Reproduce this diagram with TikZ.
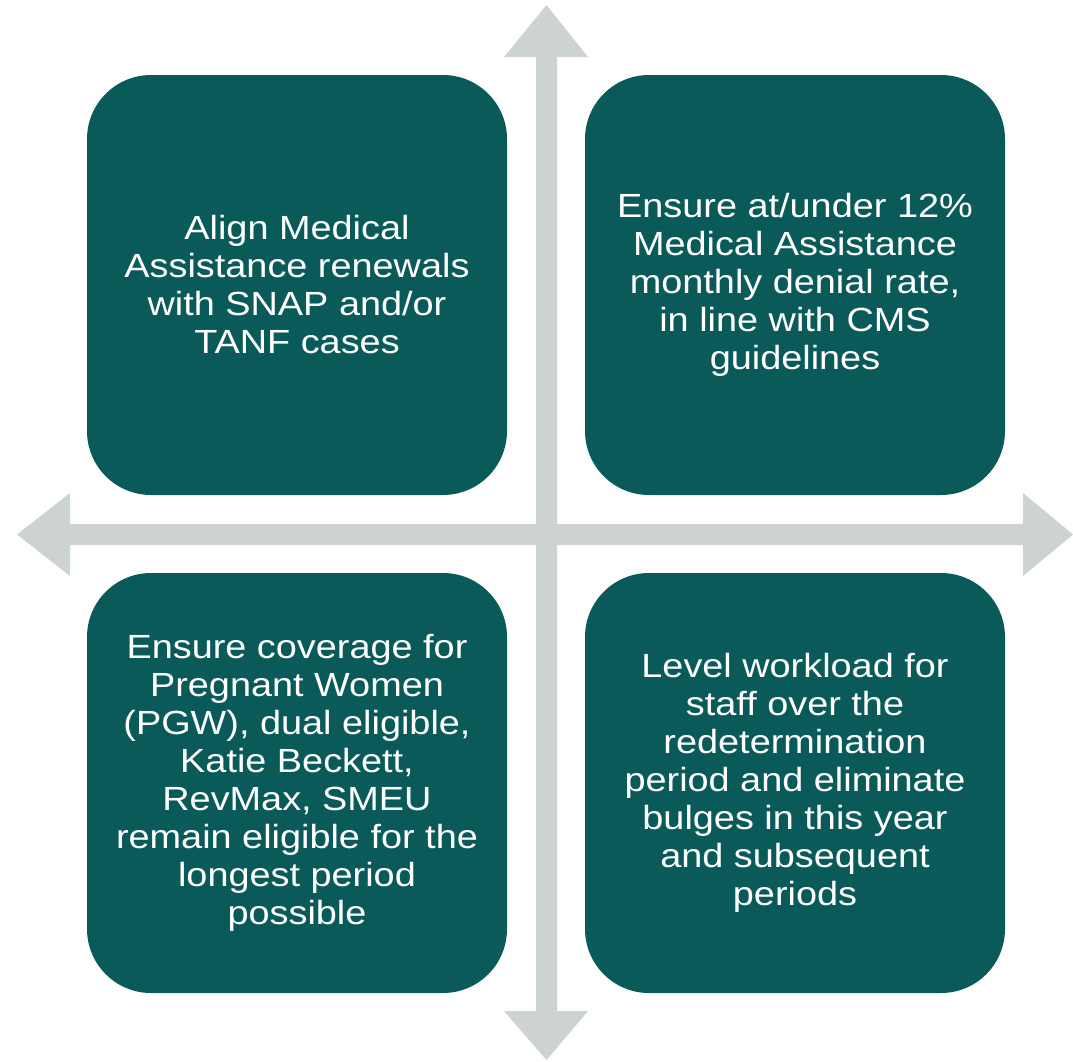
\documentclass[tikz,border=0pt]{standalone}
\usepackage{fontspec}
\setmainfont[FakeStretch=1.13]{Liberation Sans}
\definecolor{boxteal}{HTML}{0B5A5A}
\definecolor{axisgrey}{HTML}{CDD3D2}
\begin{document}
\begin{tikzpicture}[x=1pt,y=-1pt,
  quad/.style={fill=boxteal, draw=none, rounded corners=64pt, minimum width=420pt, minimum height=420pt, inner sep=0pt},
  quadtext/.style={text=white, align=center, font=\fontsize{33.5}{38}\selectfont, inner sep=0pt},
  axis/.style={fill=axisgrey, draw=none}]
\useasboundingbox (0,0) rectangle (1073,1061);
% vertical double arrow
\fill[axis] (546.5,5) -- (588,57) -- (557,57) -- (557,1011) -- (588,1011) -- (546.5,1060) -- (504,1011) -- (536,1011) -- (536,57) -- (504,57) -- cycle;
% horizontal double arrow
\fill[axis] (17,534.5) -- (70,493) -- (70,524) -- (1023,524) -- (1023,493) -- (1073,534.5) -- (1023,576) -- (1023,545) -- (70,545) -- (70,576) -- cycle;
% quadrants
\node[quad] (tl) at (297,285) {};
\node[quad] (tr) at (795,285) {};
\node[quad] (bl) at (297,783) {};
\node[quad] (br) at (795,783) {};
\node[quadtext] (tlt) at (tl.center) {Align Medical\\Assistance renewals\\with SNAP and/or\\TANF cases};
\node[quadtext] (trt) at (tr.center) {Ensure at/under 12\%\\Medical Assistance\\monthly denial rate,\\in line with CMS\\guidelines};
\node[quadtext] (blt) at (bl.center) {Ensure coverage for\\Pregnant Women\\(PGW), dual eligible,\\Katie Beckett,\\RevMax, SMEU\\remain eligible for the\\longest period\\possible};
\node[quadtext] (brt) at (br.center) {Level workload for\\staff over the\\redetermination\\period and eliminate\\bulges in this year\\and subsequent\\periods};
\end{tikzpicture}
\end{document}
